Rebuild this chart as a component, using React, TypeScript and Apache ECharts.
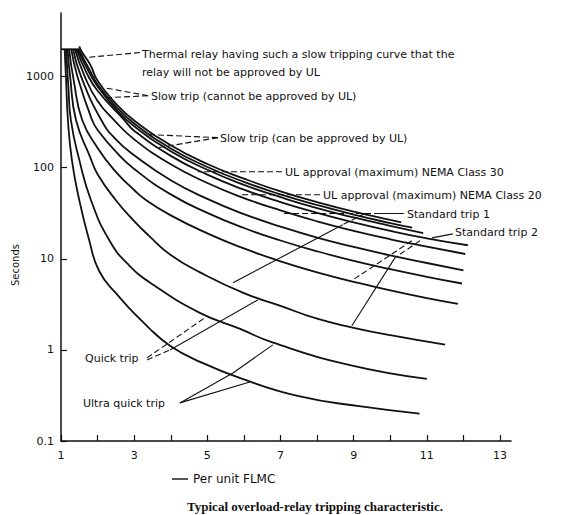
import React, { useEffect, useRef } from 'react';
import * as echarts from 'echarts';

// ---- axes ----
const xTickValues = [1, 2, 3, 4, 5, 6, 7, 8, 9, 10, 11, 12, 13];
const xLabelValues = [1, 3, 5, 7, 9, 11, 13];
const yTickValues = [0.1, 1, 10, 100, 1000];

// ---- curves (per-unit FLMC, seconds) ----
const capTop = [[1.0, 2000], [1.5, 2000]];
const ultraQuickTrip1 = [[1.1, 2000], [1.14, 900], [1.19, 330], [1.3, 120], [1.5, 44], [1.77, 16], [2.04, 7.4], [2.5, 4.2], [3.4, 1.75], [4.0, 1.1], [4.8, 0.74], [5.9, 0.49], [7.5, 0.31], [9.2, 0.24], [10.8, 0.2]];
const ultraQuickTrip2 = [[1.14, 2000], [1.2, 800], [1.27, 334], [1.5, 122], [1.82, 44], [2.32, 16], [2.86, 8.5], [3.55, 5.1], [4.78, 2.57], [5.88, 1.71], [6.8, 1.2], [8.9, 0.68], [11.0, 0.48]];
const quickTrip1 = [[1.18, 2000], [1.25, 1000], [1.41, 334], [1.8, 130], [2.0, 85], [2.5, 44], [3.0, 26], [3.4, 18], [4.0, 11], [4.8, 7.1], [6.0, 4.2], [7.0, 3.05], [8.0, 2.2], [9.0, 1.75], [10.0, 1.45], [11.5, 1.14]];
const quickTrip2 = [[1.22, 2000], [1.35, 900], [1.58, 334], [2.0, 165], [2.5, 90], [3.0, 57], [3.33, 44], [4.0, 30], [5.0, 19], [6.0, 13], [7.0, 9.4], [8.0, 7.1], [9.0, 5.6], [10.0, 4.5], [11.0, 3.7], [11.85, 3.2]];
const standardTrip2 = [[1.28, 2000], [1.45, 1000], [1.85, 334], [2.0, 260], [2.5, 150], [3.0, 97], [4.0, 51], [5.0, 32], [6.0, 21.8], [7.0, 15.9], [8.0, 12.1], [9.0, 9.5], [10.0, 7.7], [11.0, 6.35], [11.96, 5.36]];
const standardTrip1 = [[1.33, 2000], [1.55, 1000], [2.1, 334], [2.5, 205], [3.0, 137], [4.0, 73], [5.0, 45.5], [6.0, 31], [7.0, 22.6], [8.0, 17.1], [9.0, 13.5], [10.0, 10.9], [11.0, 9.0], [12.0, 7.45]];
const ulClass20 = [[1.38, 2000], [1.65, 1000], [2.0, 540], [2.45, 334], [3.0, 205], [4.0, 109], [5.0, 68], [6.0, 46.5], [7.0, 34], [8.0, 25.8], [9.0, 20.3], [10.0, 16.4], [11.0, 13.6], [12.05, 11.3]];
const ulClass30 = [[1.42, 2000], [1.7, 1100], [2.0, 700], [2.73, 334], [3.0, 255], [4.0, 135], [5.0, 84], [6.0, 57.5], [7.0, 42], [8.0, 32], [9.0, 25.2], [10.0, 20.3], [11.0, 16.8], [12.12, 14.1]];
const slowTripCan = [[1.45, 2000], [1.75, 1150], [2.0, 780], [2.5, 440], [3.0, 285], [4.0, 152], [5.0, 95], [6.0, 65], [7.0, 47.5], [8.0, 36], [9.0, 28.5], [10.0, 23], [10.9, 19.2]];
const slowTripCannot = [[1.48, 2000], [1.8, 1150], [2.0, 820], [2.5, 470], [3.0, 306], [4.0, 163], [5.0, 102], [6.0, 70], [7.0, 51], [8.0, 39], [9.0, 30.6], [10.0, 24.7], [10.6, 22]];
const thermalRelay = [[1.5, 2150], [1.56, 1900], [1.8, 1350], [2.0, 900], [2.5, 505], [3.0, 330], [4.0, 177], [5.0, 110], [6.0, 76], [7.0, 55], [8.0, 42], [9.0, 33], [10.0, 26.8], [10.3, 25.2]];

// ---- leader lines (data coordinates) ----
const thermalLeader = [[3.16, 1840], [1.66, 1620]];
const slowCannotLeaderA = [[3.38, 618], [2.17, 757]];
const slowCannotLeaderB = [[3.38, 618], [2.28, 588]];
const slowCanLeaderA = [[5.29, 214], [3.43, 231]];
const slowCanLeaderB = [[5.29, 214], [3.65, 166]];
const class30Leader = [[7.04, 90.4], [4.74, 90.4]];
const class20Leader = [[8.08, 50.5], [5.89, 50.5]];
const std1LeaderDash = [[9.72, 31.5], [7.07, 31.5]];
const std1LeaderSolid = [[10.37, 31.5], [9.72, 31.5]];
const std1LeaderBDash = [[9.31, 31.5], [8.7, 23.7]];
const std1LeaderBSolid = [[8.7, 23.7], [5.7, 5.45]];
const std2LeaderA = [[11.71, 18.8], [11.14, 17.0]];
const std2LeaderBDash = [[10.81, 15.8], [10.13, 10.3]];
const std2LeaderBSolid = [[10.13, 10.3], [8.95, 1.84]];
const std2LeaderCDash = [[10.59, 15.8], [8.98, 5.88]];
const quickLeaderA = [[3.35, 0.817], [4.93, 2.25]];
const quickLeaderBDash = [[3.35, 0.776], [3.98, 1.0]];
const quickLeaderBSolid = [[3.98, 1.0], [6.38, 3.54]];
const ultraLeaderA = [[4.25, 0.262], [6.16, 0.445]];
const ultraLeaderB = [[4.25, 0.262], [5.7, 0.558], [6.79, 1.135]];

const curveList = [capTop, ultraQuickTrip1, ultraQuickTrip2, quickTrip1, quickTrip2, standardTrip2, standardTrip1, ulClass20, ulClass30, slowTripCan, slowTripCannot, thermalRelay];
const solidLeaders = [std1LeaderSolid, std1LeaderBSolid, std2LeaderA, std2LeaderBSolid, quickLeaderBSolid, ultraLeaderA, ultraLeaderB];
const dashedLeaders = [thermalLeader, slowCannotLeaderA, slowCannotLeaderB, slowCanLeaderA, slowCanLeaderB, class30Leader, class20Leader, std1LeaderDash, std1LeaderBDash, std2LeaderBDash, std2LeaderCDash, quickLeaderA, quickLeaderBDash];

// ---- annotation texts ----
const annotationTexts = [
  'Thermal relay having such a slow tripping curve that the',
  'relay will not be approved by UL',
  'Slow trip (cannot be approved by UL)',
  'Slow trip (can be approved by UL)',
  'UL approval (maximum) NEMA Class 30',
  'UL approval (maximum) NEMA Class 20',
  'Standard trip 1',
  'Standard trip 2',
  'Quick trip',
  'Ultra quick trip',
];
const annotationPos = [
  [142, 54], [142, 72], [151, 96], [220, 138], [285, 172], [323, 195], [407, 214], [455, 232], [85, 358], [83, 403],
];

const FONT = 'DejaVu Sans';

export default function App() {
  const ref = useRef<HTMLDivElement>(null);
  useEffect(() => {
    const chart = echarts.init(ref.current!, null, { renderer: 'svg' });
    const series: any[] = [];
    curveList.forEach((d, i) => {
      series.push({
        type: 'line', data: d, showSymbol: false, symbol: 'none', silent: true,
        smooth: i === 0 ? false : 0.5,
        lineStyle: { color: '#111', width: 1.8 },
        z: 3,
      });
    });
    solidLeaders.forEach((d) => {
      series.push({ type: 'line', data: d, symbol: 'none', silent: true, lineStyle: { color: '#111', width: 1.1 }, z: 2 });
    });
    dashedLeaders.forEach((d) => {
      series.push({ type: 'line', data: d, symbol: 'none', silent: true, lineStyle: { color: '#111', width: 1.1, type: [6, 3] }, z: 2 });
    });

    const graphics: any[] = annotationTexts.map((t, i) => ({
      type: 'text', x: annotationPos[i][0], y: annotationPos[i][1],
      style: { text: t, fill: '#111', font: `11px "${FONT}"`, textAlign: 'left', textVerticalAlign: 'middle' },
    }));
    graphics.push({
      type: 'text', x: 15, y: 265, rotation: Math.PI / 2,
      style: { text: 'Seconds', fill: '#111', font: `10px "${FONT}"`, textAlign: 'center', textVerticalAlign: 'middle' },
    });
    graphics.push({ type: 'line', shape: { x1: 172, y1: 479, x2: 188, y2: 479 }, style: { stroke: '#111', lineWidth: 1.4 } });
    graphics.push({
      type: 'text', x: 193, y: 479,
      style: { text: 'Per unit FLMC', fill: '#111', font: `12px "${FONT}"`, textAlign: 'left', textVerticalAlign: 'middle' },
    });
    graphics.push({
      type: 'text', x: 315, y: 506,
      style: { text: 'Typical overload-relay tripping characteristic.', fill: '#111', font: `bold 13px "Liberation Serif"`, textAlign: 'center', textVerticalAlign: 'middle' },
    });

    chart.setOption({
      animation: false,
      backgroundColor: '#fff',
      grid: { left: 61, right: 50, top: 13, bottom: 74 },
      xAxis: {
        type: 'value', min: 1, max: 13.3,
        axisLine: { show: true, onZero: false, lineStyle: { color: '#111', width: 1.5 } },
        axisTick: { show: true, inside: true, length: 6, customValues: xTickValues, lineStyle: { color: '#111', width: 1.2 } },
        axisLabel: { customValues: xLabelValues, color: '#111', fontSize: 11, margin: 9, fontFamily: FONT },
        splitLine: { show: false },
      },
      yAxis: {
        type: 'log', logBase: 10, min: 0.1, max: 5000,
        axisLine: { show: true, onZero: false, lineStyle: { color: '#111', width: 1.5 } },
        axisTick: { show: true, inside: true, length: 6, customValues: yTickValues, lineStyle: { color: '#111', width: 1.2 } },
        axisLabel: {
          customValues: yTickValues, color: '#111', fontSize: 11, margin: 7, fontFamily: FONT,
          formatter: (v: number) => (v < 0.5 ? '0.1' : String(Math.round(v))),
        },
        splitLine: { show: false },
      },
      series,
      graphic: graphics,
    });
    return () => chart.dispose();
  }, []);
  return <div ref={ref} style={{ position: 'fixed', left: 0, top: 0, width: 561, height: 515, background: '#fff' }} />;
}
